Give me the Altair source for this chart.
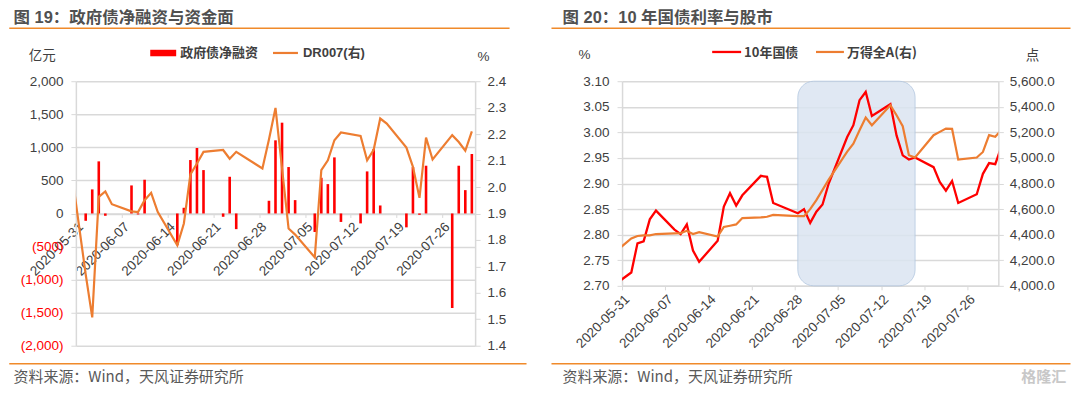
import altair as alt
import pandas as pd
from datetime import date

# ---------------- data ----------------
tick_labels = ["2020-05-31", "2020-06-07", "2020-06-14", "2020-06-21", "2020-06-28",
               "2020-07-05", "2020-07-12", "2020-07-19", "2020-07-26"]

bar_dates = ["2020-06-01", "2020-06-02", "2020-06-03", "2020-06-04", "2020-06-08", "2020-06-09",
             "2020-06-10", "2020-06-15", "2020-06-16", "2020-06-17", "2020-06-18", "2020-06-19",
             "2020-06-22", "2020-06-23", "2020-06-24", "2020-06-29", "2020-06-30", "2020-07-01",
             "2020-07-02", "2020-07-03", "2020-07-06", "2020-07-07", "2020-07-08", "2020-07-09",
             "2020-07-10", "2020-07-13", "2020-07-14", "2020-07-15", "2020-07-16", "2020-07-20",
             "2020-07-21", "2020-07-22", "2020-07-23", "2020-07-27", "2020-07-28", "2020-07-29",
             "2020-07-30"]
gov_net = [-111, 364, 788, -35, 424, -15, 510, -480, 86, 808, 990, 656,
           -50, 555, -237, 192, 1106, 1373, 702, 202, -280, 540, 444, 848,
           -128, -150, 636, 975, 121, -210, 702, -20, 722, -1430, 722, 353, 899]

dr_dates = ["2020-05-29", "2020-06-01", "2020-06-02", "2020-06-03", "2020-06-04", "2020-06-05",
            "2020-06-08", "2020-06-09", "2020-06-10", "2020-06-11", "2020-06-12", "2020-06-15",
            "2020-06-16", "2020-06-17", "2020-06-18", "2020-06-19", "2020-06-22", "2020-06-23",
            "2020-06-24", "2020-06-28", "2020-06-29", "2020-06-30", "2020-07-01", "2020-07-02",
            "2020-07-03", "2020-07-06", "2020-07-07", "2020-07-08", "2020-07-09", "2020-07-10",
            "2020-07-13", "2020-07-14", "2020-07-15", "2020-07-16", "2020-07-17", "2020-07-20",
            "2020-07-21", "2020-07-22", "2020-07-23", "2020-07-24", "2020-07-27", "2020-07-28",
            "2020-07-29", "2020-07-30"]
dr007 = [2.21, 1.67, 1.507, 1.963, 1.983, 1.935, 1.908, 1.905, 1.95, 1.978, 1.906, 1.78,
         1.862, 2.048, 2.089, 2.133, 2.14, 2.107, 2.133, 2.07, 2.18, 2.299, 2.07, 1.843,
         1.82, 1.734, 2.064, 2.101, 2.177, 2.206, 2.193, 2.101, 2.141, 2.259, 2.24, 2.149,
         2.076, 1.959, 2.187, 2.104, 2.196, 2.17, 2.137, 2.21]

mkt_dates = dr_dates + ["2020-07-31"]
cgb10y = [2.70, 2.726, 2.783, 2.787, 2.83, 2.847, 2.81, 2.801, 2.82, 2.769, 2.747, 2.788,
          2.855, 2.881, 2.857, 2.877, 2.915, 2.913, 2.862, 2.842, 2.85, 2.823, 2.845, 2.859,
          2.90, 2.991, 3.014, 3.063, 3.079, 3.032, 3.055, 2.994, 2.955, 2.947, 2.951, 2.932,
          2.903, 2.886, 2.905, 2.862, 2.879, 2.919, 2.94, 2.938, 2.972]
wind_a = [4250, 4370, 4390, 4395, 4395, 4405, 4410, 4412, 4430, 4405, 4420, 4385,
          4460, 4470, 4480, 4530, 4535, 4540, 4555, 4545, 4545, 4600, 4670, 4750,
          4830, 5050, 5112, 5217, 5316, 5256, 5412, 5334, 5248, 5021, 5003, 5178,
          5204, 5230, 5227, 4987, 5003, 5047, 5178, 5165, 5220]

highlight = ["2020-06-28", "2020-07-17"]

left_ticks = [-2000, -1500, -1000, -500, 0, 500, 1000, 1500, 2000]
dr_ticks = [1.4, 1.5, 1.6, 1.7, 1.8, 1.9, 2.0, 2.1, 2.2, 2.3, 2.4]
yield_ticks = [2.70, 2.75, 2.80, 2.85, 2.90, 2.95, 3.00, 3.05, 3.10]
index_ticks = [4000, 4200, 4400, 4600, 4800, 5000, 5200, 5400, 5600]

# ---------------- helpers ----------------
BASE = date(2020, 5, 31)


def day_pos(s):
    y, m, d = map(int, s.split("-"))
    return (date(y, m, d) - BASE).days + 0.5


tick_vals = [day_pos(s) - 0.5 for s in tick_labels]
label_expr = "[" + ",".join("'%s'" % s for s in tick_labels) + "][round(datum.value/7)]"

NUM = "Liberation Sans, Arial, Noto Sans CJK SC"
CJK = "Noto Sans CJK SC"
GRID = "#D9D9D9"
TXT = "#404040"
RED = "#FF0000"
ORANGE = "#ED7D31"
RULE = "#F08A2A"

bars_df = pd.DataFrame({"d": [day_pos(s) for s in bar_dates], "v": gov_net})
dr_df = pd.DataFrame({"d": [day_pos(s) for s in dr_dates], "v": dr007})
mkt_df = pd.DataFrame({"d": [day_pos(s) for s in mkt_dates], "y": cgb10y, "a": wind_a})
hl_df = pd.DataFrame({"d": [day_pos(highlight[0])], "d2": [day_pos(highlight[1])]})
one = pd.DataFrame({"k": [0]})


def label(txt, x, y, size=13, weight="normal", color=TXT, align="left",
          baseline="middle", font=CJK):
    return alt.Chart(one).mark_text(
        text=txt, align=align, baseline=baseline, fontSize=size, fontWeight=weight,
        color=color, font=font
    ).encode(x=alt.value(x), y=alt.value(y))


def hrule(xa, xb, y, color, width, opacity=1):
    return alt.Chart(one).mark_rule(color=color, strokeWidth=width, strokeOpacity=opacity).encode(
        x=alt.value(xa), x2=alt.value(xb), y=alt.value(y))


def swatch_rect(xa, xb, ya, yb, color):
    return alt.Chart(one).mark_rect(color=color).encode(
        x=alt.value(xa), x2=alt.value(xb), y=alt.value(ya), y2=alt.value(yb))


def x_enc(offset):
    return alt.X("d:Q", scale=alt.Scale(domain=[0, 61], nice=False, zero=False),
                 axis=alt.Axis(values=tick_vals, labelExpr=label_expr, labelAngle=-45,
                               labelAlign="right", labelBaseline="top", grid=False,
                               domainColor=GRID, domainWidth=1.5, tickColor=GRID, tickSize=4,
                               offset=offset, labelFontSize=13.5, labelColor=TXT, labelFont=NUM,
                               labelPadding=2, title=None, labelOverlap=False))


# ---------------- left panel ----------------
W1, H1 = 400, 265
xl = x_enc(-H1 / 2)

bars = alt.Chart(bars_df).mark_rule(color=RED, strokeWidth=2.6).encode(
    x=xl,
    y=alt.Y("v:Q", scale=alt.Scale(domain=[-2000, 2000], nice=False, zero=False),
            axis=alt.Axis(values=left_ticks, orient="left", title=None, grid=True,
                          gridColor=GRID, gridWidth=1.5, domainColor=GRID, domainWidth=1.5,
                          tickColor=GRID, tickSize=5, labelPadding=8, labelFontSize=13.5,
                          labelFont=NUM,
                          labelExpr="datum.value < 0 ? '(' + format(-datum.value, ',') + ')' : format(datum.value, ',')",
                          labelColor={"condition": {"test": "datum.value < 0", "value": RED},
                                      "value": TXT})),
    y2=alt.datum(0),
)

dr_line = alt.Chart(dr_df).mark_line(color=ORANGE, strokeWidth=2.2, clip=True).encode(
    x=xl,
    y=alt.Y("v:Q", scale=alt.Scale(domain=[1.4, 2.4], nice=False, zero=False),
            axis=alt.Axis(values=dr_ticks, orient="right", title=None, grid=False, format=".1f",
                          domainColor=GRID, domainWidth=1.5, tickColor=GRID, tickSize=5,
                          labelPadding=7, labelFontSize=13.5, labelFont=NUM, labelColor=TXT)),
)

left = alt.layer(
    bars, dr_line,
    hrule(-66.75, 434.5, -73, "#FFFFFF", 0.5, 0),
    label("图 19：政府债净融资与资金面", -62.5, -58, size=16.5, weight="bold",
          color="#505050", baseline="alphabetic", font=NUM),
    hrule(-66.75, 434.5, -53, RULE, 1.5),
    swatch_rect(74.5, 100.5, -31.5, -25, RED),
    label("政府债净融资", 104.5, -28, weight="bold"),
    hrule(197.5, 222.5, -28.3, ORANGE, 2.2),
    label("DR007(右)", 227.5, -28, weight="bold", font=NUM),
    label("亿元", -33.8, -25, size=13.5, align="center"),
    label("%", 408.5, -24, size=13.5, align="center", font=NUM),
    hrule(-66.75, 451.5, 283, RULE, 1.5),
    label("资料来源：Wind，天风证券研究所", -62.5, 296, size=15, color="#595959"),
).resolve_scale(y="independent").properties(width=W1, height=H1)

# ---------------- right panel ----------------
W2, H2 = 377, 205
xr = x_enc(0)

shade = alt.Chart(hl_df).mark_rect(cornerRadius=16, fill="#DBE5F1", stroke="#B4C8E1",
                                   strokeWidth=1, opacity=0.85).encode(
    x=xr, x2="d2:Q", y=alt.value(0), y2=alt.value(H2))

red_line = alt.Chart(mkt_df).mark_line(color=RED, strokeWidth=2.3, clip=True).encode(
    x=xr,
    y=alt.Y("y:Q", scale=alt.Scale(domain=[2.70, 3.10], nice=False, zero=False),
            axis=alt.Axis(values=yield_ticks, orient="left", title=None, grid=True,
                          gridColor=GRID, gridWidth=1.5, format=".2f", domainColor=GRID,
                          domainWidth=1.5, tickColor=GRID, tickSize=5, labelPadding=8,
                          labelFontSize=13.5, labelFont=NUM, labelColor=TXT)),
)

orange_line = alt.Chart(mkt_df).mark_line(color=ORANGE, strokeWidth=2.2, clip=True).encode(
    x=xr,
    y=alt.Y("a:Q", scale=alt.Scale(domain=[4000, 5600], nice=False, zero=False),
            axis=alt.Axis(values=index_ticks, orient="right", title=None, grid=False,
                          format=",.1f", domainColor=GRID, domainWidth=1.5, tickColor=GRID,
                          tickSize=5, labelPadding=6, labelFontSize=13.5, labelFont=NUM,
                          labelColor=TXT)),
)

right = alt.layer(
    shade, red_line, orange_line,
    label("图 20：10 年国债利率与股市", -59.7, -58, size=16.5, weight="bold",
          color="#505050", baseline="alphabetic", font=NUM),
    hrule(-70.7, 449.3, -53, RULE, 1.5),
    hrule(90.3, 119.3, -29.3, RED, 2.3),
    label("10年国债", 122.3, -28, weight="bold"),
    hrule(194.3, 222.3, -29.3, ORANGE, 2.2),
    label("万得全A(右)", 225.3, -28, weight="bold"),
    label("%", -37.7, -26, size=13.5, align="center", font=NUM),
    label("点", 411.3, -25, size=13.5, align="center"),
    hrule(-70.7, 449.3, 283, RULE, 1.5),
    label("资料来源：Wind，天风证券研究所", -59.7, 296, size=15, color="#595959"),
    label("格隆汇", 445, 296, size=15, color="#C8C8C8", align="right", weight="bold"),
).resolve_scale(y="independent").properties(width=W2, height=H2)

chart = alt.hconcat(left, right, spacing=147.2, bounds="flush").properties(
    padding=0
).configure_view(stroke=None)

chart.save("out.html", embed_options={"renderer": "svg", "actions": False})
